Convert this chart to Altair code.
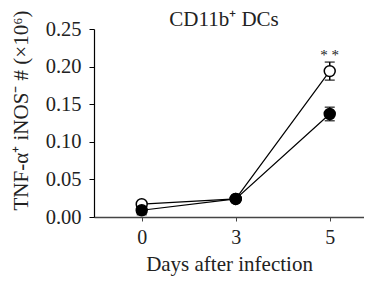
import altair as alt
import pandas as pd

days = ["0", "3", "5"]
open_mean = [0.017, 0.024, 0.194]
open_err = [0.002, 0.002, 0.012]
filled_mean = [0.009, 0.024, 0.137]
filled_err = [0.006, 0.002, 0.009]
sig_day = ["5"]
sig_label = ["* *"]
sig_y = [0.206]
title_text = ["CD11b⁺ DCs"]

rows = []
for g, m, e in [("open", open_mean, open_err), ("filled", filled_mean, filled_err)]:
    for d, mv, ev in zip(days, m, e):
        rows.append({"day": d, "group": g, "mean": mv, "lo": mv - ev, "hi": mv + ev})
df = pd.DataFrame(rows)
sig = pd.DataFrame({"day": sig_day, "label": sig_label, "mean": sig_y})
ttl = pd.DataFrame({"t": title_text})

FONT = "Liberation Serif"
INK = "#222222"

xscale = alt.Scale(type="point", padding=0.436, align=0.582)
xaxis = alt.Axis(title="Days after infection", labelAngle=0, tickSize=4,
                 domainColor="#444", tickColor="#444", labelPadding=6,
                 titlePadding=6, labelFontSize=20, titleFontSize=21,
                 labelFont=FONT, titleFont=FONT, titleFontWeight="normal",
                 labelColor=INK, titleColor=INK, domainWidth=1.5)
yscale = alt.Scale(domain=[0, 0.25], nice=False)
yaxis = alt.Axis(title="TNF-α⁺ iNOS⁻ # (×10⁶)", values=[0, 0.05, 0.1, 0.15, 0.2, 0.25],
                 format=".2f", tickSize=5, domainColor="black", tickColor="black",
                 labelFontSize=20.5, titleFontSize=21, labelFont=FONT, titleFont=FONT,
                 titleFontWeight="normal", labelPadding=8, grid=False,
                 labelOverlap=False, labelColor=INK, titleColor=INK,
                 titleAngle=-90, titleX=-73, titleY=81, titleAlign="center",
                 titleBaseline="middle", domainWidth=1.2)


def X():
    return alt.X("day:N", sort=days, scale=xscale, axis=xaxis)


def Y(field):
    return alt.Y(f"{field}:Q", scale=yscale, axis=yaxis)


base = alt.Chart(df)
lines = base.mark_line(color="black", strokeWidth=1.2).encode(x=X(), y=Y("mean"), detail="group:N")
rules = base.mark_rule(color="black", strokeWidth=1.5).encode(x=X(), y=Y("lo"), y2="hi:Q")
caps_lo = base.mark_tick(color="black", size=10, thickness=1.5).encode(x=X(), y=Y("lo"))
caps_hi = base.mark_tick(color="black", size=10, thickness=1.5).encode(x=X(), y=Y("hi"))
points = base.mark_point(shape="circle", size=120, stroke="black", strokeWidth=1.5, opacity=1,
                         filled=False).encode(
    x=X(), y=Y("mean"),
    fill=alt.Fill("group:N", scale=alt.Scale(domain=["open", "filled"], range=["white", "black"]),
                  legend=None),
    order=alt.Order("group:N", sort="descending"))
stars = alt.Chart(sig).mark_text(font=FONT, fontSize=15, fill=INK, dy=-2, baseline="alphabetic").encode(
    x=X(), y=Y("mean"), text="label:N")
title = alt.Chart(ttl).mark_text(font=FONT, fontSize=21, fill=INK, baseline="alphabetic",
                                 align="center").encode(
    x=alt.value(130), y=alt.value(-3), text="t:N")

chart = alt.layer(lines, rules, caps_lo, caps_hi, points, stars, title).properties(
    width=270, height=188,
    autosize=alt.AutoSizeParams(type="none"),
    padding={"left": 86, "top": 21, "right": 0, "bottom": 59},
).configure_view(stroke=None)

chart.save("out.html", embed_options={"renderer": "svg", "actions": False})
